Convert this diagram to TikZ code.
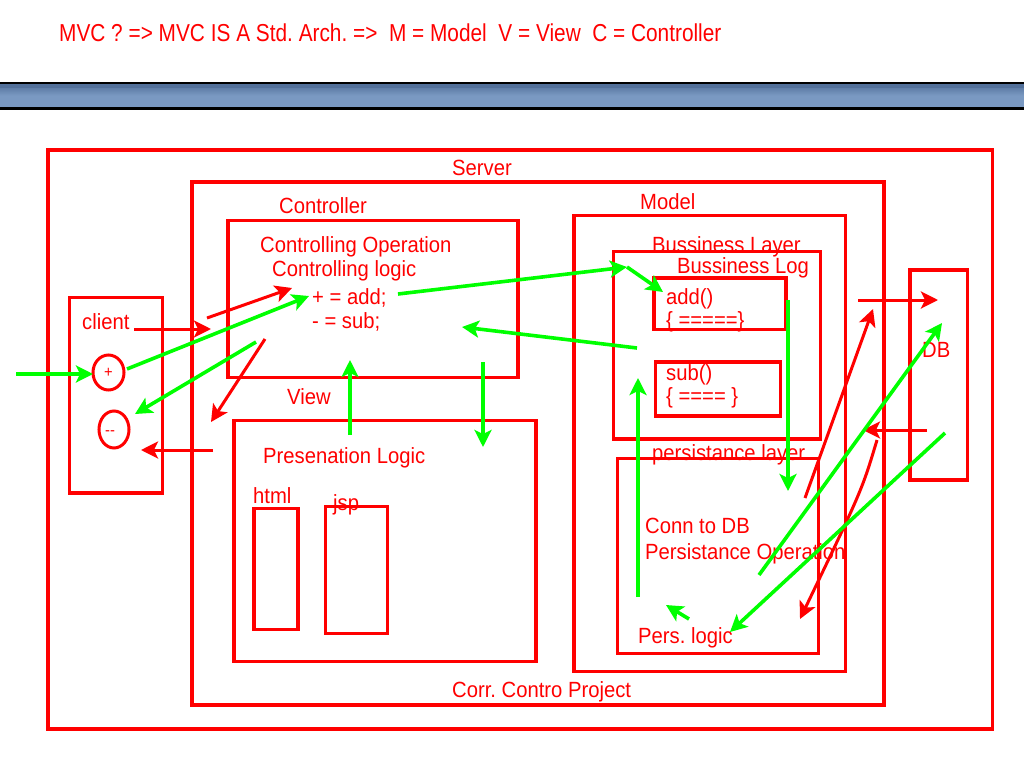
\documentclass[tikz,border=0pt]{standalone}
\usepackage{fontspec}
\newfontfamily\pf[FakeStretch=0.92]{Liberation Sans}
\newfontfamily\hf[FakeStretch=0.85]{Liberation Sans}
\usetikzlibrary{arrows.meta,shapes.geometric}
\definecolor{mred}{HTML}{FF0000}
\definecolor{mgreen}{HTML}{00FF00}
\definecolor{bardark}{HTML}{52709A}
\definecolor{barlight}{HTML}{7A99C2}
\frenchspacing
\begin{document}
\frenchspacing
\begin{tikzpicture}[x=1pt,y=-1pt,
  box/.style={draw=mred,line width=3.3pt,anchor=north west,inner sep=0pt,outer sep=0pt},
  oval/.style={draw=mred,line width=3pt,ellipse,inner sep=0pt},
  lbl/.style={text=mred,font=\pf\fontsize{22}{24}\selectfont,anchor=base west,inner sep=0pt},
  rarr/.style={draw=mred,line width=3pt,-{Stealth[length=17pt,width=17pt,inset=4pt]}},
  garr/.style={draw=mgreen,line width=3.6pt,-{Stealth[length=17pt,width=17pt,inset=4pt]}}]
\useasboundingbox (0,0) rectangle (1024,768);
\fill[white] (0,0) rectangle (1024,768);
% header
\node[lbl,font=\hf\fontsize{24.5}{26}\selectfont] (title) at (59,41.7) {MVC ? => MVC IS A Std. Arch. =>~ M = Model~ V = View~ C = Controller};
\shade[top color=bardark,bottom color=barlight,middle color=barlight] (0,84) rectangle (1024,107);
\fill[bardark] (0,84) rectangle (1024,88);
\draw[black,line width=2.5pt] (0,83) -- (1024,83);
\draw[black,line width=3pt] (0,108.5) -- (1024,108.5);
% labels (drawn before boxes so box edges cover them)
\node[lbl] (lserver) at (452,175) {Server};
\node[lbl] (lproject) at (452,697) {Corr. Contro Project};
\node[lbl] (lcontroller) at (279,213) {Controller};
\node[lbl] (lco) at (260,252) {Controlling Operation};
\node[lbl] (lcl) at (272,276) {Controlling logic};
\node[lbl] (ladd) at (312,304) {+ = add;};
\node[lbl] (lsub) at (312,328) {- = sub;};
\node[lbl] (lview) at (287,404) {View};
\node[lbl] (lpres) at (263,463) {Presenation Logic};
\node[lbl] (lhtml) at (253,503) {html};
\node[lbl] (ljsp) at (333,510) {jsp};
\node[lbl] (lclient) at (82,329) {client};
\node[lbl] (lmodel) at (640,209) {Model};
\node[lbl] (lblayer) at (652,252) {Bussiness Layer};
\node[lbl] (lblog) at (677,273) {Bussiness Log};
\node[lbl] (laddf) at (666,304) {add()};
\node[lbl] (laddb) at (666,327) {\{ =====\}};
\node[lbl] (lsubf) at (666,380) {sub()};
\node[lbl] (lsubb) at (666,403) {\{ ==== \}};
\node[lbl] (lplayer) at (652,460) {persistance layer};
\node[lbl] (lconn) at (645,533) {Conn to DB};
\node[lbl] (lpop) at (645,559) {Persistance Operation};
\node[lbl] (lplogic) at (638,643) {Pers. logic};
\node[lbl] (ldb) at (922,357) {DB};
% boxes
\node[box,minimum width=944.5pt,minimum height=579pt] (server) at (48,150) {};
\node[box,minimum width=692pt,minimum height=523pt] (project) at (192,182) {};
\node[box,minimum width=290pt,minimum height=157pt] (controller) at (228,220.5) {};
\node[box,minimum width=302pt,minimum height=241pt] (view) at (234,420.5) {};
\node[box,minimum width=44pt,minimum height=121pt] (html) at (254,508.5) {};
\node[box,minimum width=62pt,minimum height=127pt] (jsp) at (325.5,506.5) {};
\node[box,minimum width=93pt,minimum height=195.5pt] (client) at (69.5,297.5) {};
\node[box,minimum width=271.5pt,minimum height=456pt] (model) at (574,215.5) {};
\node[box,minimum width=207pt,minimum height=187.5pt] (business) at (613.5,251.5) {};
\node[box,minimum width=132pt,minimum height=51.5pt] (addbox) at (654,278) {};
\node[box,minimum width=125pt,minimum height=54pt] (subbox) at (655.5,362) {};
\node[box,minimum width=200.6pt,minimum height=195pt] (persist) at (617.7,458.3) {};
\node[box,minimum width=57.5pt,minimum height=210pt] (db) at (910,270) {};
% client buttons
\node[oval,minimum width=31pt,minimum height=35pt] (plus) at (108.5,372.5) {};
\node[text=mred,font=\pf\fontsize{16}{16}\selectfont,inner sep=0pt] (plustxt) at (plus.center) {+};
\node[oval,minimum width=30pt,minimum height=37pt] (minus) at (114,429.5) {};
\node[text=mred,font=\pf\fontsize{16}{16}\selectfont,inner sep=0pt] (minustxt) at (110,433) {-{}-};
% connector end points
\coordinate (r1a) at (134,329); \coordinate (r1b) at (211,329);
\coordinate (r2a) at (207,318); \coordinate (r2b) at (292,288);
\coordinate (r3a) at (265,339); \coordinate (r3b) at (211,422);
\coordinate (r4a) at (213,450); \coordinate (r4b) at (141,450);
\coordinate (r5a) at (858,300); \coordinate (r5b) at (938,300);
\coordinate (r6a) at (805,498); \coordinate (r6b) at (873,309);
\coordinate (r7a) at (927,430); \coordinate (r7b) at (863,430);
\coordinate (r8a) at (877,440); \coordinate (r8b) at (800,619);
\coordinate (g1a) at (16,374); \coordinate (g1b) at (93,374);
\coordinate (g2a) at (127,369); \coordinate (g2b) at (309,296);
\coordinate (g3a) at (398,294); \coordinate (g3b) at (627,267);
\coordinate (g3c) at (663,292);
\coordinate (g4a) at (637,348); \coordinate (g4b) at (462,327);
\coordinate (g5a) at (256,342); \coordinate (g5b) at (135,414);
\coordinate (g6a) at (350,435); \coordinate (g6b) at (350,360);
\coordinate (g7a) at (483,362); \coordinate (g7b) at (483,447);
\coordinate (g8a) at (788,300); \coordinate (g8b) at (788,491);
\coordinate (g9a) at (638,597); \coordinate (g9b) at (638,378);
\coordinate (g10a) at (689,619); \coordinate (g10b) at (666,605);
\coordinate (g11a) at (759,575); \coordinate (g11b) at (942,323);
\coordinate (g12a) at (945,433); \coordinate (g12b) at (730,632);
% red connectors
\draw[rarr] (r1a) -- (r1b);
\draw[rarr] (r2a) -- (r2b);
\draw[rarr] (r3a) -- (r3b);
\draw[rarr] (r4a) -- (r4b);
\draw[rarr] (r5a) -- (r5b);
\draw[rarr] (r6a) -- (r6b);
\draw[rarr] (r7a) -- (r7b);
\draw[rarr] (r8a) .. controls (862,490) .. (r8b);
% green connectors
\draw[garr] (g1a) -- (g1b);
\draw[garr] (g2a) -- (g2b);
\draw[garr] (g3a) -- (g3b);
\draw[garr] (g3b) -- (g3c);
\draw[garr] (g4a) -- (g4b);
\draw[garr] (g5a) -- (g5b);
\draw[garr] (g6a) -- (g6b);
\draw[garr] (g7a) -- (g7b);
\draw[garr] (g8a) -- (g8b);
\draw[garr] (g9a) -- (g9b);
\draw[garr] (g10a) -- (g10b);
\draw[garr] (g11a) -- (g11b);
\draw[garr] (g12a) -- (g12b);
\end{tikzpicture}
\end{document}
